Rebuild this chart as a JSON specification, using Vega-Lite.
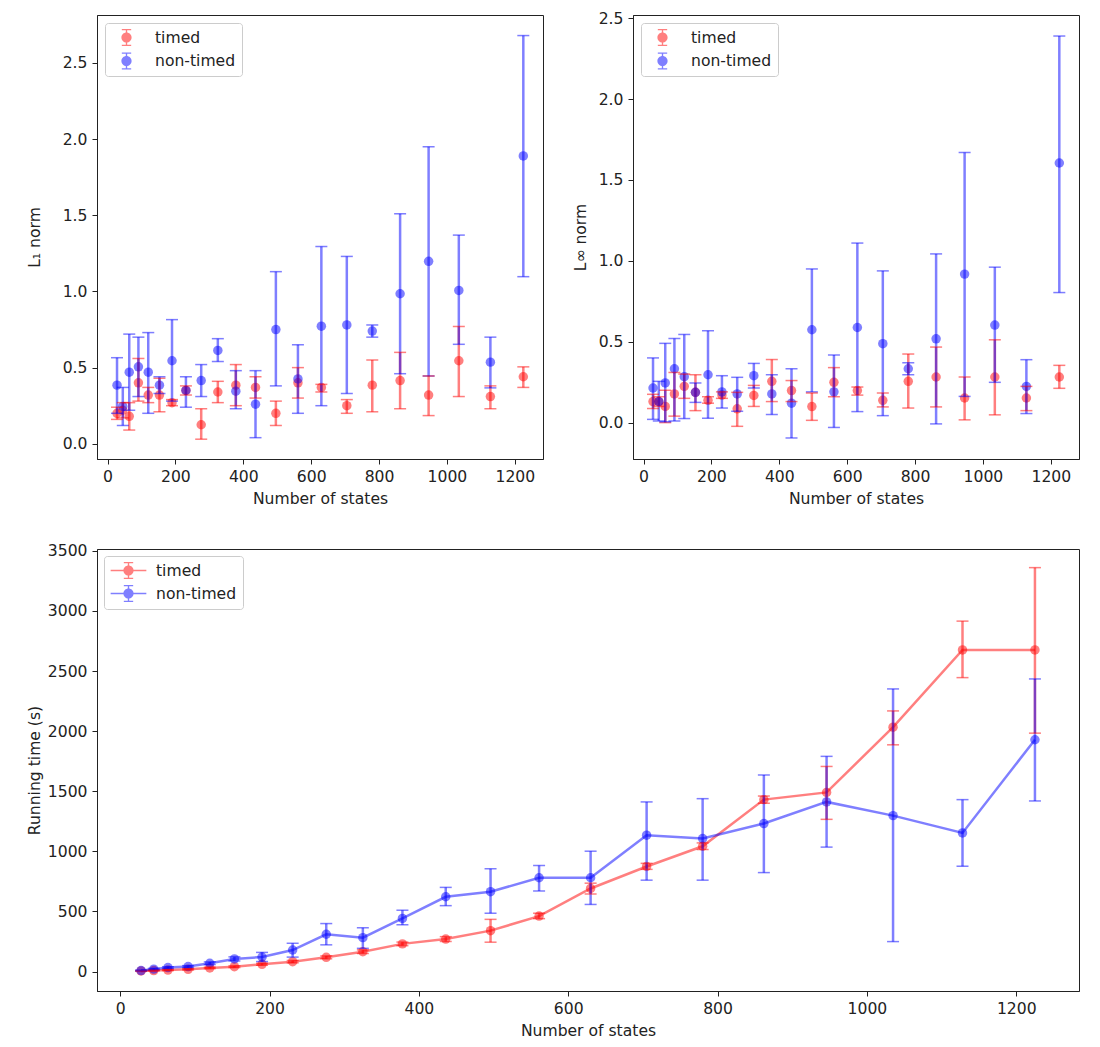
{
  "$schema": "https://vega.github.io/schema/vega-lite/v6.json",
  "background": "white",
  "padding": {"left": 26, "top": 10, "right": 5, "bottom": 5},
  "config": {
    "font": "DejaVu Sans",
    "view": {"stroke": "#222222", "strokeWidth": 1},
    "axis": {
      "domainColor": "#222222", "tickColor": "#222222", "labelColor": "#222222", "titleColor": "#222222",
      "labelFontSize": 15.6, "titleFontSize": 15.6, "titleFontWeight": "normal",
      "grid": false, "tickSize": 5, "labelPadding": 5, "titlePadding": 7, "labelFlush": false, "labelOverlap": false
    },
    "legend": {"labelFontSize": 15.6, "labelColor": "#222222"}
  },
  "datasets": {
    "l1": [
      {"n":28,"m":"timed","v":0.20,"lo":0.16,"hi":0.24},
      {"n":45,"m":"timed","v":0.22,"lo":0.17,"hi":0.27},
      {"n":64,"m":"timed","v":0.18,"lo":0.09,"hi":0.27},
      {"n":91,"m":"timed","v":0.40,"lo":0.28,"hi":0.56},
      {"n":120,"m":"timed","v":0.32,"lo":0.27,"hi":0.37},
      {"n":153,"m":"timed","v":0.32,"lo":0.21,"hi":0.43},
      {"n":190,"m":"timed","v":0.27,"lo":0.25,"hi":0.29},
      {"n":231,"m":"timed","v":0.35,"lo":0.32,"hi":0.38},
      {"n":276,"m":"timed","v":0.125,"lo":0.03,"hi":0.23},
      {"n":325,"m":"timed","v":0.34,"lo":0.27,"hi":0.41},
      {"n":378,"m":"timed","v":0.385,"lo":0.25,"hi":0.52},
      {"n":436,"m":"timed","v":0.37,"lo":0.30,"hi":0.44},
      {"n":496,"m":"timed","v":0.20,"lo":0.12,"hi":0.28},
      {"n":561,"m":"timed","v":0.40,"lo":0.30,"hi":0.50},
      {"n":630,"m":"timed","v":0.37,"lo":0.34,"hi":0.39},
      {"n":705,"m":"timed","v":0.25,"lo":0.20,"hi":0.29},
      {"n":780,"m":"timed","v":0.385,"lo":0.21,"hi":0.55},
      {"n":862,"m":"timed","v":0.415,"lo":0.23,"hi":0.60},
      {"n":946,"m":"timed","v":0.32,"lo":0.185,"hi":0.445},
      {"n":1035,"m":"timed","v":0.545,"lo":0.31,"hi":0.77},
      {"n":1128,"m":"timed","v":0.31,"lo":0.23,"hi":0.38},
      {"n":1225,"m":"timed","v":0.44,"lo":0.37,"hi":0.505},
      {"n":28,"m":"non-timed","v":0.385,"lo":0.20,"hi":0.565},
      {"n":45,"m":"non-timed","v":0.245,"lo":0.12,"hi":0.37},
      {"n":64,"m":"non-timed","v":0.47,"lo":0.22,"hi":0.72},
      {"n":91,"m":"non-timed","v":0.505,"lo":0.31,"hi":0.70},
      {"n":120,"m":"non-timed","v":0.47,"lo":0.20,"hi":0.73},
      {"n":153,"m":"non-timed","v":0.385,"lo":0.33,"hi":0.44},
      {"n":190,"m":"non-timed","v":0.545,"lo":0.28,"hi":0.815},
      {"n":231,"m":"non-timed","v":0.35,"lo":0.24,"hi":0.44},
      {"n":276,"m":"non-timed","v":0.415,"lo":0.31,"hi":0.52},
      {"n":325,"m":"non-timed","v":0.613,"lo":0.54,"hi":0.69},
      {"n":378,"m":"non-timed","v":0.345,"lo":0.23,"hi":0.48},
      {"n":436,"m":"non-timed","v":0.26,"lo":0.04,"hi":0.48},
      {"n":496,"m":"non-timed","v":0.75,"lo":0.38,"hi":1.13},
      {"n":561,"m":"non-timed","v":0.426,"lo":0.20,"hi":0.65},
      {"n":630,"m":"non-timed","v":0.772,"lo":0.25,"hi":1.295},
      {"n":705,"m":"non-timed","v":0.78,"lo":0.33,"hi":1.23},
      {"n":780,"m":"non-timed","v":0.74,"lo":0.70,"hi":0.78},
      {"n":862,"m":"non-timed","v":0.985,"lo":0.46,"hi":1.51},
      {"n":946,"m":"non-timed","v":1.198,"lo":0.445,"hi":1.95},
      {"n":1035,"m":"non-timed","v":1.007,"lo":0.653,"hi":1.37},
      {"n":1128,"m":"non-timed","v":0.536,"lo":0.367,"hi":0.70},
      {"n":1225,"m":"non-timed","v":1.89,"lo":1.097,"hi":2.68}
    ],
    "linf": [
      {"n":28,"m":"timed","v":0.13,"lo":0.087,"hi":0.175},
      {"n":45,"m":"timed","v":0.13,"lo":0.10,"hi":0.16},
      {"n":64,"m":"timed","v":0.10,"lo":0.0,"hi":0.20},
      {"n":91,"m":"timed","v":0.177,"lo":0.04,"hi":0.31},
      {"n":120,"m":"timed","v":0.224,"lo":0.15,"hi":0.30},
      {"n":153,"m":"timed","v":0.187,"lo":0.074,"hi":0.296},
      {"n":190,"m":"timed","v":0.138,"lo":0.12,"hi":0.16},
      {"n":231,"m":"timed","v":0.17,"lo":0.15,"hi":0.19},
      {"n":276,"m":"timed","v":0.085,"lo":-0.023,"hi":0.187},
      {"n":325,"m":"timed","v":0.168,"lo":0.10,"hi":0.23},
      {"n":378,"m":"timed","v":0.255,"lo":0.13,"hi":0.39},
      {"n":436,"m":"timed","v":0.198,"lo":0.13,"hi":0.26},
      {"n":496,"m":"timed","v":0.099,"lo":0.014,"hi":0.183},
      {"n":561,"m":"timed","v":0.249,"lo":0.16,"hi":0.34},
      {"n":630,"m":"timed","v":0.198,"lo":0.17,"hi":0.22},
      {"n":705,"m":"timed","v":0.138,"lo":0.097,"hi":0.183},
      {"n":780,"m":"timed","v":0.255,"lo":0.09,"hi":0.424},
      {"n":862,"m":"timed","v":0.282,"lo":0.097,"hi":0.467},
      {"n":946,"m":"timed","v":0.152,"lo":0.017,"hi":0.282},
      {"n":1035,"m":"timed","v":0.282,"lo":0.048,"hi":0.512},
      {"n":1128,"m":"timed","v":0.152,"lo":0.074,"hi":0.224},
      {"n":1225,"m":"timed","v":0.282,"lo":0.212,"hi":0.354},
      {"n":28,"m":"non-timed","v":0.214,"lo":0.02,"hi":0.40},
      {"n":45,"m":"non-timed","v":0.13,"lo":0.01,"hi":0.255},
      {"n":64,"m":"non-timed","v":0.245,"lo":0.005,"hi":0.49},
      {"n":91,"m":"non-timed","v":0.333,"lo":0.01,"hi":0.52},
      {"n":120,"m":"non-timed","v":0.284,"lo":0.025,"hi":0.545},
      {"n":153,"m":"non-timed","v":0.187,"lo":0.125,"hi":0.245},
      {"n":190,"m":"non-timed","v":0.296,"lo":0.027,"hi":0.568},
      {"n":231,"m":"non-timed","v":0.19,"lo":0.09,"hi":0.29},
      {"n":276,"m":"non-timed","v":0.177,"lo":0.07,"hi":0.28},
      {"n":325,"m":"non-timed","v":0.29,"lo":0.214,"hi":0.366},
      {"n":378,"m":"non-timed","v":0.177,"lo":0.05,"hi":0.296},
      {"n":436,"m":"non-timed","v":0.12,"lo":-0.095,"hi":0.333},
      {"n":496,"m":"non-timed","v":0.574,"lo":0.19,"hi":0.95},
      {"n":561,"m":"non-timed","v":0.19,"lo":-0.03,"hi":0.418},
      {"n":630,"m":"non-timed","v":0.588,"lo":0.068,"hi":1.11},
      {"n":705,"m":"non-timed","v":0.488,"lo":0.043,"hi":0.938},
      {"n":780,"m":"non-timed","v":0.333,"lo":0.296,"hi":0.37},
      {"n":862,"m":"non-timed","v":0.518,"lo":-0.008,"hi":1.043},
      {"n":946,"m":"non-timed","v":0.918,"lo":0.162,"hi":1.67},
      {"n":1035,"m":"non-timed","v":0.603,"lo":0.249,"hi":0.961},
      {"n":1128,"m":"non-timed","v":0.224,"lo":0.056,"hi":0.389},
      {"n":1225,"m":"non-timed","v":1.605,"lo":0.804,"hi":2.39}
    ],
    "time": [
      {"n":28,"m":"timed","v":5,"lo":2,"hi":8},
      {"n":45,"m":"timed","v":8,"lo":5,"hi":11},
      {"n":64,"m":"timed","v":12,"lo":8,"hi":16},
      {"n":91,"m":"timed","v":18,"lo":13,"hi":23},
      {"n":120,"m":"timed","v":30,"lo":24,"hi":36},
      {"n":153,"m":"timed","v":40,"lo":33,"hi":47},
      {"n":190,"m":"timed","v":60,"lo":52,"hi":68},
      {"n":231,"m":"timed","v":82,"lo":72,"hi":92},
      {"n":276,"m":"timed","v":118,"lo":106,"hi":130},
      {"n":325,"m":"timed","v":165,"lo":150,"hi":180},
      {"n":378,"m":"timed","v":230,"lo":215,"hi":245},
      {"n":436,"m":"timed","v":270,"lo":250,"hi":290},
      {"n":496,"m":"timed","v":340,"lo":244,"hi":434},
      {"n":561,"m":"timed","v":461,"lo":440,"hi":485},
      {"n":630,"m":"timed","v":691,"lo":645,"hi":735},
      {"n":705,"m":"timed","v":874,"lo":850,"hi":900},
      {"n":780,"m":"timed","v":1042,"lo":1015,"hi":1070},
      {"n":862,"m":"timed","v":1430,"lo":1400,"hi":1460},
      {"n":946,"m":"timed","v":1490,"lo":1266,"hi":1706},
      {"n":1035,"m":"timed","v":2033,"lo":1886,"hi":2168},
      {"n":1128,"m":"timed","v":2675,"lo":2445,"hi":2915},
      {"n":1225,"m":"timed","v":2675,"lo":1983,"hi":3360},
      {"n":28,"m":"non-timed","v":8,"lo":4,"hi":12},
      {"n":45,"m":"non-timed","v":20,"lo":14,"hi":26},
      {"n":64,"m":"non-timed","v":33,"lo":26,"hi":40},
      {"n":91,"m":"non-timed","v":41,"lo":33,"hi":49},
      {"n":120,"m":"non-timed","v":69,"lo":58,"hi":80},
      {"n":153,"m":"non-timed","v":105,"lo":88,"hi":122},
      {"n":190,"m":"non-timed","v":121,"lo":83,"hi":159},
      {"n":231,"m":"non-timed","v":179,"lo":120,"hi":235},
      {"n":276,"m":"non-timed","v":310,"lo":222,"hi":399},
      {"n":325,"m":"non-timed","v":282,"lo":193,"hi":364},
      {"n":378,"m":"non-timed","v":442,"lo":389,"hi":510},
      {"n":436,"m":"non-timed","v":622,"lo":548,"hi":700},
      {"n":496,"m":"non-timed","v":664,"lo":485,"hi":855},
      {"n":561,"m":"non-timed","v":780,"lo":670,"hi":882},
      {"n":630,"m":"non-timed","v":780,"lo":558,"hi":1001},
      {"n":705,"m":"non-timed","v":1134,"lo":760,"hi":1411},
      {"n":780,"m":"non-timed","v":1106,"lo":760,"hi":1438},
      {"n":862,"m":"non-timed","v":1231,"lo":823,"hi":1635},
      {"n":946,"m":"non-timed","v":1411,"lo":1035,"hi":1790},
      {"n":1035,"m":"non-timed","v":1297,"lo":249,"hi":2351},
      {"n":1128,"m":"non-timed","v":1153,"lo":876,"hi":1430},
      {"n":1225,"m":"non-timed","v":1928,"lo":1419,"hi":2434}
    ]
  },
  "spacing": 35,
  "resolve": {"scale": {"color": "independent"}, "legend": {"color": "independent"}},
  "vconcat": [
    {
      "bounds": "flush",
      "spacing": 90,
      "resolve": {"scale": {"color": "independent"}, "legend": {"color": "independent"}},
      "hconcat": [
        {
          "width": 446, "height": 444,
          "data": {"name": "l1"},
          "encoding": {
            "x": {"field": "n", "type": "quantitative", "title": "Number of states",
                  "scale": {"domain": [-31, 1283], "nice": false, "zero": false},
                  "axis": {"values": [0,200,400,600,800,1000,1200], "format": "d"}},
            "color": {"field": "m", "type": "nominal",
                      "scale": {"domain": ["timed","non-timed"], "range": ["#ff0000","#0000ff"]},
                      "legend": {"orient": "top-left", "title": null, "offset": 7.5, "padding": 6, "symbolOffset": 7,
                                 "strokeColor": "#cccccc", "fillColor": "white", "cornerRadius": 3,
                                 "symbolType": "M-0.55,-1H0.55V-0.86H-0.55ZM-0.08,-1H0.08V1H-0.08ZM-0.55,0.86H0.55V1H-0.55ZM0.6,0A0.6,0.6 0 1,1 -0.6,0A0.6,0.6 0 1,1 0.6,0Z",
                                 "symbolSize": 289, "symbolStrokeWidth": 0, "symbolOpacity": 0.5,
                                 "rowPadding": 5.5, "labelOffset": 20}}
          },
          "layer": [
            {"mark": {"type": "point", "shape": "circle", "filled": true, "size": 90, "opacity": 0.5},
             "encoding": {"y": {"field": "v", "type": "quantitative", "title": "L₁ norm",
                                "scale": {"domain": [-0.1, 2.815], "nice": false, "zero": false},
                                "axis": {"values": [0,0.5,1,1.5,2,2.5], "format": ".1f", "titlePadding": 20}}}},
            {"mark": {"type": "rule", "strokeWidth": 2.5, "opacity": 0.5},
             "encoding": {"y": {"field": "lo", "type": "quantitative", "title": "L₁ norm"}, "y2": {"field": "hi"}}},
            {"mark": {"type": "point", "shape": "M-1,0H1", "filled": false, "size": 144, "strokeWidth": 1.5, "opacity": 0.5},
             "encoding": {"y": {"field": "lo", "type": "quantitative", "title": "L₁ norm"}}},
            {"mark": {"type": "point", "shape": "M-1,0H1", "filled": false, "size": 144, "strokeWidth": 1.5, "opacity": 0.5},
             "encoding": {"y": {"field": "hi", "type": "quantitative", "title": "L₁ norm"}}}
          ]
        },
        {
          "width": 446, "height": 444,
          "data": {"name": "linf"},
          "encoding": {
            "x": {"field": "n", "type": "quantitative", "title": "Number of states",
                  "scale": {"domain": [-31, 1283], "nice": false, "zero": false},
                  "axis": {"values": [0,200,400,600,800,1000,1200], "format": "d"}},
            "color": {"field": "m", "type": "nominal",
                      "scale": {"domain": ["timed","non-timed"], "range": ["#ff0000","#0000ff"]},
                      "legend": {"orient": "top-left", "title": null, "offset": 7.5, "padding": 6, "symbolOffset": 7,
                                 "strokeColor": "#cccccc", "fillColor": "white", "cornerRadius": 3,
                                 "symbolType": "M-0.55,-1H0.55V-0.86H-0.55ZM-0.08,-1H0.08V1H-0.08ZM-0.55,0.86H0.55V1H-0.55ZM0.6,0A0.6,0.6 0 1,1 -0.6,0A0.6,0.6 0 1,1 0.6,0Z",
                                 "symbolSize": 289, "symbolStrokeWidth": 0, "symbolOpacity": 0.5,
                                 "rowPadding": 5.5, "labelOffset": 20}}
          },
          "layer": [
            {"mark": {"type": "point", "shape": "circle", "filled": true, "size": 90, "opacity": 0.5},
             "encoding": {"y": {"field": "v", "type": "quantitative", "title": "L∞ norm",
                                "scale": {"domain": [-0.225, 2.52], "nice": false, "zero": false},
                                "axis": {"values": [0,0.5,1,1.5,2,2.5], "format": ".1f", "titlePadding": 10}}}},
            {"mark": {"type": "rule", "strokeWidth": 2.5, "opacity": 0.5},
             "encoding": {"y": {"field": "lo", "type": "quantitative", "title": "L∞ norm"}, "y2": {"field": "hi"}}},
            {"mark": {"type": "point", "shape": "M-1,0H1", "filled": false, "size": 144, "strokeWidth": 1.5, "opacity": 0.5},
             "encoding": {"y": {"field": "lo", "type": "quantitative", "title": "L∞ norm"}}},
            {"mark": {"type": "point", "shape": "M-1,0H1", "filled": false, "size": 144, "strokeWidth": 1.5, "opacity": 0.5},
             "encoding": {"y": {"field": "hi", "type": "quantitative", "title": "L∞ norm"}}}
          ]
        }
      ]
    },
    {
      "width": 982, "height": 442,
      "data": {"name": "time"},
      "encoding": {
        "x": {"field": "n", "type": "quantitative", "title": "Number of states",
              "scale": {"domain": [-31, 1284], "nice": false, "zero": false},
              "axis": {"values": [0,200,400,600,800,1000,1200], "format": "d", "titlePadding": 7}},
        "color": {"field": "m", "type": "nominal",
                  "scale": {"domain": ["timed","non-timed"], "range": ["#ff0000","#0000ff"]},
                  "legend": {"orient": "top-left", "title": null, "offset": 7, "padding": 6, "symbolOffset": 10,
                             "strokeColor": "#cccccc", "fillColor": "white", "cornerRadius": 3,
                             "symbolType": "M-2.1,-0.08H2.1V0.08H-2.1ZM-0.55,-1H0.55V-0.86H-0.55ZM-0.08,-1H0.08V1H-0.08ZM-0.55,0.86H0.55V1H-0.55ZM0.6,0A0.6,0.6 0 1,1 -0.6,0A0.6,0.6 0 1,1 0.6,0Z",
                             "symbolSize": 289, "symbolStrokeWidth": 0, "symbolOpacity": 0.5,
                             "rowPadding": 5, "labelOffset": 19}}
      },
      "layer": [
        {"mark": {"type": "point", "shape": "circle", "filled": true, "size": 90, "opacity": 0.5},
         "encoding": {"y": {"field": "v", "type": "quantitative", "title": "Running time (s)",
                            "scale": {"domain": [-162, 3515], "nice": false, "zero": false},
                            "axis": {"values": [0,500,1000,1500,2000,2500,3000,3500], "format": "d", "titlePadding": 5}}}},
        {"mark": {"type": "line", "strokeWidth": 2.5, "opacity": 0.5},
         "encoding": {"y": {"field": "v", "type": "quantitative", "title": "Running time (s)"}}},
        {"mark": {"type": "rule", "strokeWidth": 2.5, "opacity": 0.5},
         "encoding": {"y": {"field": "lo", "type": "quantitative", "title": "Running time (s)"}, "y2": {"field": "hi"}}},
        {"mark": {"type": "point", "shape": "M-1,0H1", "filled": false, "size": 144, "strokeWidth": 1.5, "opacity": 0.5},
         "encoding": {"y": {"field": "lo", "type": "quantitative", "title": "Running time (s)"}}},
        {"mark": {"type": "point", "shape": "M-1,0H1", "filled": false, "size": 144, "strokeWidth": 1.5, "opacity": 0.5},
         "encoding": {"y": {"field": "hi", "type": "quantitative", "title": "Running time (s)"}}}
      ]
    }
  ]
}
